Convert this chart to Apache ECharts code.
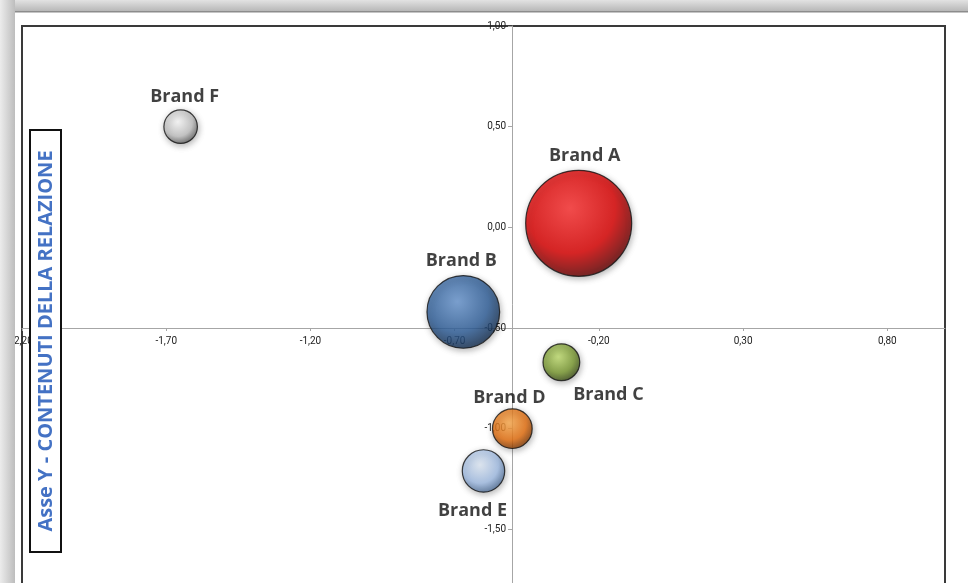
<!DOCTYPE html>
<html>
<head>
<meta charset="utf-8">
<script src="https://cdn.jsdelivr.net/npm/echarts@6/dist/echarts.min.js"></script>
<style>
  html, body { margin: 0; padding: 0; background: #fff; }
  #chart { width: 968px; height: 583px; }
</style>
</head>
<body>
<div id="chart"></div>
<script type="text/javascript">

    // dati
    var brands = ['Brand A', 'Brand B', 'Brand C', 'Brand D', 'Brand E', 'Brand F'];
    var xValues = [-0.27, -0.67, -0.33, -0.50, -0.60, -1.65];
    var yValues = [0.02, -0.42, -0.67, -1.00, -1.21, 0.50];
    var bubbleSizes = [100, 47, 12, 14, 16, 10];

    // stile delle bolle: luce, colore, bordo scuro
    var bubbleColors = [
        ['#ff3030', '#dc0000', '#4a0000'],
        ['#6a98d2', '#2f5f9a', '#0f2440'],
        ['#c2e070', '#7a9a30', '#2e3e10'],
        ['#ffae50', '#e8700e', '#6a2c00'],
        ['#e4eefa', '#a4c0e8', '#3e5e88'],
        ['#ffffff', '#c4c4c4', '#4a4a4a']
    ];
    // posizione delle etichette
    var labelStyle = [
        { position: 'top', offset: [6, 0] },
        { position: 'top', offset: [-2, 0] },
        { position: 'bottom', offset: [47, 0] },
        { position: 'top', offset: [-3, 4] },
        { position: 'bottom', offset: [-11, 4] },
        { position: 'top', offset: [4, 2] }
    ];

    var chart = echarts.init(document.getElementById('chart'));

    function fmt(v) {
        return v.toFixed(2).replace('.', ',');
    }

    var data = brands.map(function (name, i) {
        var c = bubbleColors[i];
        return {
            name: name,
            value: [xValues[i], yValues[i], bubbleSizes[i]],
            itemStyle: {
                color: {
                    type: 'radial', x: 0.42, y: 0.36, r: 0.7,
                    colorStops: [
                        { offset: 0, color: c[0] },
                        { offset: 0.6, color: c[1] },
                        { offset: 1, color: c[2] }
                    ]
                },
                borderColor: '#111',
                borderWidth: 1.2,
                shadowColor: 'rgba(0,0,0,0.35)',
                shadowBlur: 6,
                shadowOffsetX: 1,
                shadowOffsetY: 2
            },
            label: labelStyle[i]
        };
    });

    var option = {
        backgroundColor: '#fff',
        animation: false,
        grid: {
            left: 22,
            right: 23,
            top: 26,
            bottom: -47,
            outerBoundsMode: 'none',
            containLabel: false,
            show: true,
            borderColor: '#3a3a3a',
            borderWidth: 2
        },
        xAxis: {
            type: 'value',
            min: -2.2,
            max: 1.0,
            interval: 0.5,
            position: 'bottom',
            offset: -302,
            axisLine: { onZero: false, lineStyle: { color: '#a6a6a6', width: 1 } },
            axisTick: { show: true, length: 3, lineStyle: { color: '#a6a6a6' } },
            axisLabel: {
                showMaxLabel: false,
                margin: 8,
                fontSize: 10,
                fontFamily: 'Roboto',
                color: '#222',
                formatter: fmt
            },
            splitLine: { show: false }
        },
        yAxis: {
            type: 'value',
            min: -2.0,
            max: 1.0,
            interval: 0.5,
            position: 'left',
            offset: -490,
            axisLine: { onZero: false, lineStyle: { color: '#a6a6a6', width: 1 } },
            axisTick: { show: true, length: 4, lineStyle: { color: '#a6a6a6' } },
            axisLabel: {
                margin: 6,
                fontSize: 10,
                fontFamily: 'Roboto',
                color: '#222',
                formatter: fmt
            },
            splitLine: { show: false }
        },
        graphic: [
            {
                type: 'rect', z: 100, silent: true,
                shape: { x: 0, y: 0, width: 968, height: 12 },
                style: {
                    fill: {
                        type: 'linear', x: 0, y: 0, x2: 0, y2: 1,
                        colorStops: [{ offset: 0, color: '#e2e2e2' }, { offset: 1, color: '#b4b4b4' }]
                    }
                }
            },
            {
                type: 'rect', z: 100, silent: true,
                shape: { x: 0, y: 11, width: 968, height: 1.5 },
                style: { fill: '#8c8c8c' }
            },
            {
                type: 'rect', z: 100, silent: true,
                shape: { x: 0, y: 0, width: 15, height: 583 },
                style: {
                    fill: {
                        type: 'linear', x: 0, y: 0, x2: 1, y2: 0,
                        colorStops: [{ offset: 0, color: '#ececec' }, { offset: 1, color: '#bdbdbd' }]
                    }
                }
            },
            {
                type: 'rect', z: 100,
                shape: { x: 30, y: 130, width: 31, height: 422 },
                style: { fill: '#fff', stroke: '#111', lineWidth: 2 }
            },
            {
                type: 'text', z: 101,
                x: 46, y: 341,
                rotation: Math.PI / 2,
                style: {
                    text: 'Asse Y - CONTENUTI DELLA RELAZIONE',
                    fill: '#4472c4',
                    font: 'bold 20px "Open Sans"',
                    align: 'center',
                    verticalAlign: 'middle'
                }
            }
        ],
        series: [
            {
                type: 'scatter',
                data: data,
                symbolSize: function (val) {
                    return Math.sqrt(val[2]) * 10.6;
                },
                label: {
                    show: true,
                    formatter: '{b}',
                    distance: 5,
                    fontSize: 18,
                    fontWeight: 'bold',
                    fontFamily: 'Open Sans',
                    color: '#111'
                }
            }
        ]
    };

    chart.setOption(option);
</script>
</body>
</html>
